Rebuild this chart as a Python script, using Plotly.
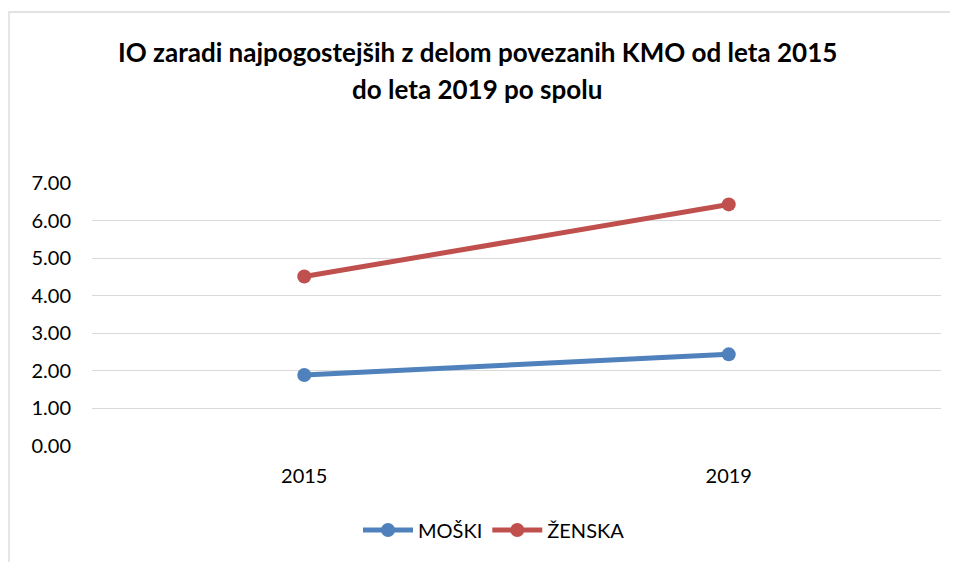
import plotly.graph_objects as go

categories = ["2015", "2019"]
moski = [1.89, 2.44]
zenska = [4.51, 6.43]
y_ticks = [0, 1, 2, 3, 4, 5, 6, 7]
y_labels = ["0.00", "1.00", "2.00", "3.00", "4.00", "5.00", "6.00", "7.00"]
title_lines = ["IO zaradi najpogostejših z delom povezanih KMO od leta 2015",
               "do leta 2019 po spolu"]

FONT = "Lato"
W, H = 958, 562
OFF = 8  # page body margin
# target screen positions
PL, PR, PT, PB = 92, 941, 183, 446
L, T = PL - OFF, PT - OFF
R = W - (PR - OFF)
B = H - (PB - OFF)
pw, ph = W - L - R, H - T - B


def py(screen_y):
    return (PB - screen_y) / ph


def px(screen_x):
    return (screen_x - PL) / pw


fig = go.Figure()
fig.add_trace(go.Scatter(x=categories, y=moski, name="MOŠKI", mode="lines+markers",
                         line=dict(color="#4F81BD", width=5),
                         marker=dict(color="#4F81BD", size=14)))
fig.add_trace(go.Scatter(x=categories, y=zenska, name="ŽENSKA", mode="lines+markers",
                         line=dict(color="#C0504D", width=5),
                         marker=dict(color="#C0504D", size=14)))

fig.update_layout(
    width=W, height=H,
    margin=dict(l=L, r=R, t=T, b=B),
    paper_bgcolor="white", plot_bgcolor="white",
    font=dict(family=FONT, color="#000000"),
    xaxis=dict(type="category", range=[-0.5, 1.5], showgrid=False, showline=False,
               ticks="", ticklabelstandoff=16,
               tickfont=dict(size=20, family=FONT, color="#000000")),
    yaxis=dict(range=[0, 7], tickvals=y_ticks, ticktext=y_labels, showgrid=True,
               gridcolor="#D9D9D9", gridwidth=1.3, zeroline=False, showline=False,
               ticks="", ticklabelstandoff=20,
               tickfont=dict(size=20, family=FONT, color="#000000")),
    legend=dict(orientation="h", x=px(494), xanchor="center", y=py(530), yanchor="middle",
                font=dict(size=20, family=FONT, color="#000000"), itemwidth=50),
    showlegend=True,
)

for txt, sy in zip(title_lines, [52, 89]):
    fig.add_annotation(text="<b>" + txt + "</b>", xref="paper", yref="paper",
                       x=px(477), y=py(sy), xanchor="center", yanchor="middle",
                       showarrow=False, font=dict(family=FONT, size=26, color="#000000"))

fig.add_shape(type="rect", xref="paper", yref="paper",
              x0=px(9), x1=1.2, y0=-1.0, y1=py(12),
              line=dict(color="#D9D9D9", width=1.3), layer="below")

fig.write_html("out.html")
